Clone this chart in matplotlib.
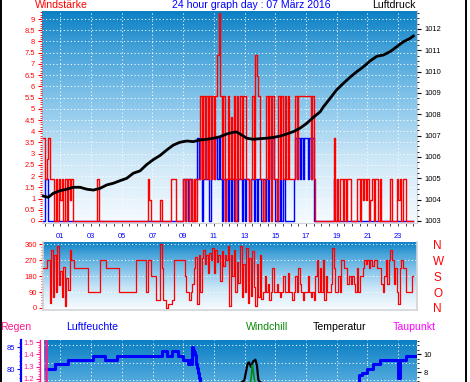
import matplotlib
matplotlib.use("Agg")
import matplotlib.pyplot as plt
import numpy as np
from matplotlib.colors import LinearSegmentedColormap
from matplotlib.ticker import MultipleLocator, FixedLocator
from matplotlib.lines import Line2D

plt.rcParams["font.family"] = ["Liberation Sans", "DejaVu Sans"]

W, H = 470, 382

# --- data --------------------------------------------------------------
# wind speed steps (Windstaerke) seen on the chart
WIND_LEVELS = [0.0, 0.93, 1.85, 2.78, 3.7, 4.63, 5.55, 6.48, 7.4, 8.33, 9.26]

# one code per 6 minutes, from -0.1 h to 24.0 h
gust_code = (
    [4]
    + [2, 3, 4, 2, 2, 2, 0, 2, 0, 2]  # 00
    + [1, 2, 0, 2, 0, 2, 1, 2, 0, 0]  # 01
    + [0] * 10  # 02
    + [0, 0, 0, 0, 2, 0, 0, 0, 0, 0]  # 03
    + [0] * 10  # 04
    + [0] * 10  # 05
    + [0, 0, 0, 0, 0, 0, 0, 2, 1, 0]  # 06
    + [0, 0, 0, 0, 0, 1, 0, 0, 0, 0]  # 07
    + [0, 0, 2, 2, 2, 0, 0, 0, 0, 0]  # 08
    + [2, 0, 2, 2, 0, 2, 0, 2, 0, 2]  # 09
    + [2, 6, 2, 6, 2, 6, 2, 6, 2, 6]  # 10
    + [2, 6, 8, 10, 6, 2, 6, 0, 2, 6]  # 11
    + [2, 5, 2, 6, 0, 6, 2, 6, 2, 6]  # 12
    + [6, 2, 2, 0, 2, 6, 2, 8, 7, 6]  # 13
    + [2, 2, 0, 2, 6, 2, 6, 0, 6, 2]  # 14
    + [2, 0, 6, 2, 6, 2, 6, 2, 6, 2]  # 15
    + [2, 2, 2, 6, 2, 6, 6, 6, 6, 6]  # 16
    + [6, 6, 6, 2, 6, 2, 0, 0, 0, 0]  # 17
    + [0, 0, 0, 0, 0, 0, 0, 0, 4, 0]  # 18
    + [2, 0, 2, 2, 0, 2, 0, 2, 2, 0]  # 19
    + [0, 0, 0, 2, 2, 0, 2, 1, 2, 1]  # 20
    + [2, 0, 1, 2, 0, 2, 2, 0, 2, 0]  # 21
    + [0, 0, 0, 0, 0, 2, 0, 0, 0, 2]  # 22
    + [1, 2, 0, 2, 2, 0, 0, 0, 0, 0, 0]  # 23
)

avg_code = (
    [0]
    + [2, 2, 0, 0, 0, 0, 0, 0, 0, 0]  # 00
    + [0] * 80  # 01 - 08
    + [2, 0, 2, 0, 2, 2, 0, 0, 2, 4]  # 09
    + [2, 4, 0, 2, 4, 2, 4, 0, 2, 4]  # 10
    + [2, 4, 2, 4, 2, 0, 2, 0, 2, 0]  # 11
    + [2, 0, 2, 0, 2, 0, 2, 2, 0, 2]  # 12
    + [0, 2, 2, 0, 2, 2, 0, 2, 0, 2]  # 13
    + [2, 0, 2, 0, 2, 0, 4, 2, 4, 2]  # 14
    + [0, 2, 0, 2, 0, 2, 0, 0, 0, 0]  # 15
    + [0, 0, 2, 4, 2, 4, 2, 4, 2, 4]  # 16
    + [4, 2, 4, 2, 4, 0, 0, 0, 0, 0]  # 17
    + [0, 0, 0, 0, 0, 0, 0, 0, 2, 0]  # 18
    + [0] * 51  # 19 - 24
)

wind_dir = (
    [225]
    + [225, 270, 270, 30, 330, 60, 300, 90, 350, 130]  # 00
    + [210, 60, 230, 10, 170, 100, 330, 270, 270, 225]  # 01
    + [225, 225, 225, 225, 225, 225, 225, 225, 90, 90]  # 02
    + [90, 90, 90, 90, 90, 90, 270, 270, 270, 270]  # 03
    + [225, 225, 225, 225, 225, 225, 225, 225, 90, 90]  # 04
    + [90, 90, 90, 90, 90, 90, 90, 90, 90, 270]  # 05
    + [270, 270, 270, 270, 270, 270, 90, 270, 270, 180]  # 06
    + [180, 180, 45, 45, 45, 360, 225, 45, 45, 0]  # 07
    + [22, 22, 22, 45, 270, 270, 270, 270, 270, 270]  # 08
    + [270, 180, 90, 90, 45, 90, 135, 225, 290, 20]  # 09
    + [300, 90, 280, 330, 250, 300, 200, 310, 270, 340]  # 10
    + [200, 330, 260, 300, 150, 320, 240, 300, 270, 350]  # 11
    + [10, 300, 180, 330, 90, 260, 140, 350, 60, 250]  # 12
    + [90, 340, 30, 280, 70, 320, 120, 10, 250, 60]  # 13
    + [300, 50, 90, 180, 90, 135, 45, 90, 225, 90]  # 14
    + [90, 135, 90, 60, 90, 180, 90, 90, 200, 90]  # 15
    + [90, 45, 90, 180, 90, 225, 135, 90, 45, 90]  # 16
    + [90, 180, 90, 60, 90, 45, 180, 270, 90, 225]  # 17
    + [90, 270, 45, 180, 90, 90, 135, 340, 225, 90]  # 18
    + [90, 180, 90, 270, 270, 225, 225, 135, 180, 135]  # 19
    + [180, 135, 90, 225, 90, 180, 180, 225, 270, 250]  # 20
    + [270, 225, 270, 240, 270, 270, 225, 225, 225, 135]  # 21
    + [90, 180, 270, 135, 270, 330, 270, 135, 225, 90]  # 22
    + [20, 225, 270, 225, 225, 90, 90, 90, 90, 180, 180]  # 23
)

press_hours = [-0.11, 0.21, 0.54, 0.98, 1.41, 1.84, 2.28, 2.72, 3.15, 3.58, 4.02, 4.45,
               4.89, 5.32, 5.75, 6.19, 6.63, 7.06, 7.49, 7.93, 8.36, 8.79, 9.23, 9.66,
               10.1, 10.53, 10.96, 11.4, 11.84, 12.27, 12.49, 12.7, 13.14, 13.57, 14.0,
               14.44, 14.87, 15.31, 15.75, 16.18, 16.61, 17.05, 17.48, 17.92, 18.13,
               18.57, 19.0, 19.43, 19.87, 20.31, 20.74, 21.17, 21.61, 22.04, 22.48,
               22.91, 23.34, 23.78, 23.99]
press_hpa = [1004.17, 1004.11, 1004.30, 1004.42, 1004.49, 1004.58, 1004.58, 1004.49,
             1004.45, 1004.53, 1004.69, 1004.77, 1004.89, 1005.0, 1005.24, 1005.35,
             1005.65, 1005.88, 1006.07, 1006.33, 1006.56, 1006.69, 1006.75, 1006.72,
             1006.80, 1006.83, 1006.88, 1006.95, 1007.08, 1007.16, 1007.17, 1007.08,
             1006.88, 1006.83, 1006.86, 1006.88, 1006.92, 1006.98, 1007.08, 1007.19,
             1007.35, 1007.58, 1007.86, 1008.12, 1008.35, 1008.75, 1009.15, 1009.45,
             1009.74, 1010.0, 1010.23, 1010.5, 1010.72, 1010.78, 1010.94, 1011.17,
             1011.4, 1011.56, 1011.67]

hum_hours = [0.05, 0.65, 1.52, 3.15, 3.91, 4.67, 7.6, 7.93, 8.25, 8.68, 9.0, 9.34,
             9.42, 9.48, 9.56, 9.62, 9.68, 9.74, 9.8, 9.86, 9.92, 9.98, 10.04, 10.1,
             10.16, 10.25, 10.6, 11.5, 14.0, 17.0, 19.0, 20.3, 20.48, 20.63, 21.0,
             21.35, 21.82, 23.02, 23.12, 23.5, 24.1]
hum_pct = [80.1, 81.1, 82.1, 83.1, 82.1, 83.1, 84.1, 83.1, 84.1, 83.1, 82.1, 81.1,
           82.1, 81.1, 85.1, 84.5, 84.0, 83.2, 82.3, 81.2, 80.2, 79.2, 78.0, 76.5,
           75.0, 73.0, 68.0, 62.0, 58.0, 60.0, 66.0, 74.0, 78.7, 79.1, 80.1,
           81.1, 82.1, 78.0, 82.1, 83.1, 83.1]

rain_hours = [0.05, 0.05, 24.1]
rain_mm = [1.6, 0.0, 0.0]

temp_hours = [-0.1, 3.0, 6.0, 9.0, 11.0, 12.5, 12.98, 13.2, 13.29, 13.42, 13.55,
              13.7, 13.8, 13.9, 14.5, 17.0, 20.0, 24.0]
temp_c = [2.5, 2.0, 2.2, 4.0, 5.5, 6.5, 7.1, 9.0, 9.1, 8.6, 9.2, 9.4, 8.8, 7.1,
          6.3, 5.0, 3.5, 3.0]

chill_hours = [13.35, 13.45, 13.5, 13.55, 13.6, 13.7]
chill_c = [6.5, 7.8, 8.8, 8.3, 7.6, 6.5]

hour_ticks = list(range(1, 24, 2))
hour_labels = [f"{h:02d}" for h in hour_ticks]
dir_ticks = [0, 90, 180, 270, 360]
dir_labels = ["N", "O", "S", "W", "N"]
# ticks of the lower panel that fall inside the visible strip
hum_ticks = [80, 85]
rain_ticks = [1.2, 1.3, 1.4, 1.5]
temp_ticks = [8, 10]

# --- styling ----------------------------------------------------------
RED = "#ff0000"
BLUE = "#0000ff"
PINK = "#ff1a8c"
MAGENTA = "#ff00ff"
GREEN = "#0a8a0a"
EDGE = "#d0d4d8"
DOTS = (0, (1, 2.4))
SKY = LinearSegmentedColormap.from_list(
    "sky", [(0.0, "#0a7fc4"), (0.2, "#4aa5da"), (0.45, "#8cc8ec"),
            (0.7, "#cde7f7"), (1.0, "#f6fbfe")])
TICK_FS = 5.4


def frac(left, top, right, bottom):
    """pixel box -> figure fraction"""
    return [left / W, 1 - bottom / H, (right - left) / W, (bottom - top) / H]


def sky(axis):
    grad = np.linspace(0, 1, 256).reshape(-1, 1)
    axis.imshow(grad, cmap=SKY, aspect="auto", extent=[0, 1, 0, 1],
                transform=axis.transAxes, zorder=0, interpolation="bilinear")


fig = plt.figure(figsize=(W / 100, H / 100), dpi=100)
fig.patch.set_facecolor("white")

t = np.round(np.arange(len(gust_code)) * 0.1 - 0.1, 2)
gust = np.array(WIND_LEVELS)[gust_code]
avg = np.array(WIND_LEVELS)[avg_code]

# --- main panel: wind speed + pressure --------------------------------
ax = fig.add_axes(frac(41.5, 10.5, 417, 223))
sky(ax)
ax.step(t, avg, where="post", color=BLUE, lw=1.0, zorder=2)
ax.step(t, gust, where="post", color=RED, lw=1.0, zorder=3)
ax.set_xlim(-0.23, 24.23)
ax.set_ylim(-0.09, 9.38)
ax.yaxis.set_major_locator(MultipleLocator(0.5))
ax.yaxis.set_minor_locator(MultipleLocator(0.1))
ax.yaxis.set_major_formatter(lambda v, p: f"{v:g}")
ax.xaxis.set_major_locator(FixedLocator(hour_ticks))
ax.xaxis.set_minor_locator(MultipleLocator(0.5))
ax.set_xticklabels(hour_labels)
ax.tick_params(axis="y", which="major", colors=RED, labelsize=TICK_FS, length=3, width=0.8, pad=1.5)
ax.tick_params(axis="y", which="minor", colors=RED, length=1.5, width=0.6)
ax.tick_params(axis="x", which="both", color="#404040", length=2, width=0.7)
ax.tick_params(axis="x", which="major", labelcolor=BLUE, labelsize=TICK_FS, pad=5)
ax.set_axisbelow(True)
ax.grid(True, which="major", color="white", lw=0.75, linestyle=DOTS)
for s in ["top", "left"]:
    ax.spines[s].set_visible(False)
for s in ["bottom", "right"]:
    ax.spines[s].set_color(EDGE)

axp = ax.twinx()
axp.plot(press_hours, press_hpa, color="black", lw=2.0, zorder=4)
axp.set_ylim(1002.906, 1012.867)
axp.yaxis.set_major_locator(MultipleLocator(1))
axp.yaxis.set_minor_locator(MultipleLocator(0.25))
axp.tick_params(axis="y", which="major", colors="black", labelsize=TICK_FS, length=3, width=0.8, pad=2)
axp.tick_params(axis="y", which="minor", colors="black", length=1.5, width=0.6)
for s in axp.spines.values():
    s.set_visible(False)

# --- middle panel: wind direction --------------------------------------
axd = fig.add_axes(frac(43.3, 242, 416.7, 309.5))
sky(axd)
axd.step(t, wind_dir, where="post", color=RED, lw=0.9, zorder=3)
axd.set_xlim(-0.11, 24.21)
axd.set_ylim(-8.5, 373)
axd.set_yticks(dir_ticks)
axd.yaxis.set_minor_locator(MultipleLocator(15))
axd.set_xticks([])
axd.tick_params(axis="y", which="major", colors=RED, labelsize=TICK_FS, length=3, width=0.8, pad=1.5)
axd.tick_params(axis="y", which="minor", colors=RED, length=1.5, width=0.6)
axd.set_axisbelow(True)
axd.grid(True, axis="y", color="white", lw=0.75, linestyle=DOTS)
axd.spines["top"].set_visible(False)
for s in ["bottom", "right", "left"]:
    axd.spines[s].set_color(EDGE)
    axd.spines[s].set_linewidth(1.2)

axd2 = axd.twinx()
axd2.set_ylim(axd.get_ylim())
axd2.set_yticks(dir_ticks)
axd2.set_yticklabels(dir_labels)
axd2.tick_params(axis="y", colors=RED, labelsize=8.5, length=0, pad=12)
for s in axd2.spines.values():
    s.set_visible(False)

# --- bottom panel: humidity, rain, temperature --------------------------
axb = fig.add_axes(frac(44.3, 340, 416.7, 520))
sky(axb)
axb.set_xlim(-0.05, 24.21)
axb.set_ylim(45.75, 86.66)
axb.plot(hum_hours, hum_pct, drawstyle="steps-post", color=BLUE, lw=2.2, zorder=3)
axb.set_xticks(hour_ticks)
axb.tick_params(axis="x", length=0, labelbottom=False)
axb.grid(True, axis="x", color="white", lw=0.75, linestyle=DOTS)
for v in (77.5, 81.5, 85.5):
    axb.axhline(v, color="white", lw=0.75, linestyle=DOTS, zorder=1)
axb.yaxis.set_major_locator(FixedLocator(hum_ticks))
axb.yaxis.set_minor_locator(FixedLocator(np.arange(76, 87)))
axb.tick_params(axis="y", which="major", colors=BLUE, labelsize=TICK_FS, length=3, width=0.8, pad=1.5)
axb.tick_params(axis="y", which="minor", colors=BLUE, length=1.5, width=0.6)
axb.spines["left"].set_position(("outward", 16.5))
axb.spines["left"].set_color(BLUE)
axb.spines["left"].set_linewidth(1.6)
for s in ["top", "right", "bottom"]:
    axb.spines[s].set_visible(False)

axr = axb.twinx()
axr.plot(rain_hours, rain_mm, color=PINK, lw=1.8, zorder=3)
axr.set_ylim(0.035, 1.519)
axr.yaxis.tick_left()
axr.yaxis.set_major_locator(FixedLocator(rain_ticks))
axr.yaxis.set_minor_locator(FixedLocator(np.arange(1.16, 1.52, 0.02)))
axr.tick_params(axis="y", which="major", colors=PINK, labelsize=TICK_FS, length=3, width=0.8, pad=1.5)
axr.tick_params(axis="y", which="minor", colors=PINK, length=1.5, width=0.6)
for s in ["top", "right", "bottom"]:
    axr.spines[s].set_visible(False)
axr.spines["left"].set_visible(True)
axr.spines["left"].set_position(("outward", 3))
axr.spines["left"].set_color(PINK)
axr.spines["left"].set_linewidth(1.0)

axt = axb.twinx()
axt.plot(temp_hours, temp_c, color="black", lw=1.6, zorder=3)
axt.plot(chill_hours, chill_c, color=GREEN, lw=1.2, zorder=4)
axt.set_ylim(-8.41, 11.59)
axt.yaxis.set_major_locator(FixedLocator(temp_ticks))
axt.yaxis.set_minor_locator(FixedLocator(np.arange(6.5, 11.6, 0.5)))
axt.tick_params(axis="y", which="major", colors="black", labelsize=TICK_FS, length=3, width=0.8, pad=2)
axt.tick_params(axis="y", which="minor", colors="black", length=1.5, width=0.6)
for s in axt.spines.values():
    s.set_visible(False)

# --- captions -----------------------------------------------------------
def caption(x, y, text, color, ha="left", size=7.6):
    fig.text(x / W, 1 - y / H, text, color=color, ha=ha, va="center", fontsize=size)


caption(35, 5.5, "Windstärke", RED)
caption(172, 5.5, "24 hour graph day : 07 März 2016", BLUE)
caption(416, 5.5, "Luftdruck", "black", ha="right")
caption(0, 327, "Regen", PINK)
caption(66, 327, "Luftfeuchte", BLUE)
caption(246, 327, "Windchill", GREEN)
caption(313, 327, "Temperatur", "black")
caption(393, 327, "Taupunkt", MAGENTA)

for xb in (0.7, 465.5):
    fig.add_artist(Line2D([xb / W, xb / W], [0, 1], color="black", lw=1.4,
                          transform=fig.transFigure))

fig.savefig("out.png", dpi=100, facecolor="white")
